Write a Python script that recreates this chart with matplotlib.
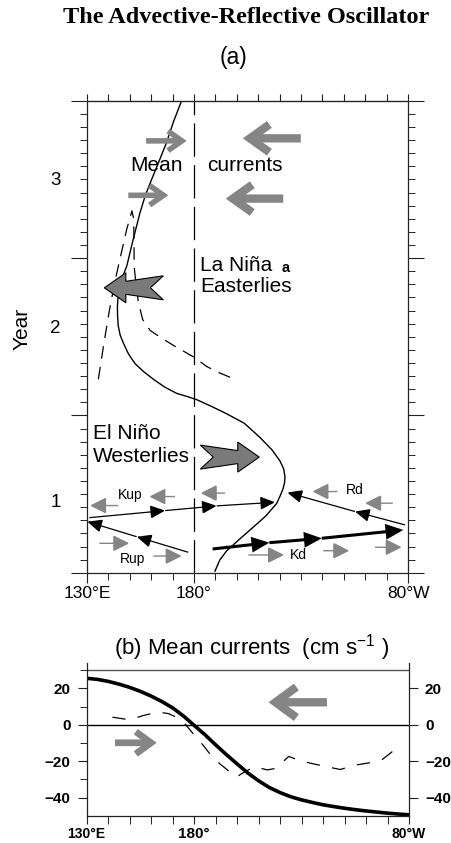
import numpy as np
import matplotlib.pyplot as plt
import matplotlib.transforms as mtransforms
from matplotlib.patches import Polygon

plt.rcParams['font.family'] = ['Liberation Sans', 'DejaVu Sans']
plt.rcParams['lines.scale_dashes'] = False

# ---- panel (a): thermocline / SST anomaly path, longitude vs year
path_lon = [174.2, 170.5, 167.2, 163.5, 160.2, 157.3, 154.8, 151.6, 148.6, 146.6, 145.4, 144.5,
            144.2, 144.3, 144.6, 145.5, 147.0, 149.4, 152.4, 156.3, 161.0, 166.3, 171.9, 176.8,
            181.3, 188.5, 195.3, 203.5, 210.8, 216.5, 220.2, 221.9, 222.5, 222.3, 221.5, 220.3,
            218.6, 213.5, 207.7, 201.0, 195.3, 192.0, 189.8]
path_year = [3.5, 3.37, 3.235, 3.11, 3.0, 2.9, 2.79, 2.62, 2.45, 2.38, 2.32, 2.25,
             2.19, 2.13, 2.07, 2.01, 1.96, 1.89, 1.83, 1.78, 1.73, 1.68, 1.64, 1.62,
             1.60, 1.555, 1.51, 1.45, 1.36, 1.28, 1.21, 1.16, 1.11, 1.07, 1.03, 0.99,
             0.94, 0.86, 0.79, 0.71, 0.64, 0.58, 0.51]

wind_lon = [135.3, 137.8, 140.5, 143.0, 145.5, 148.5, 151.0, 151.8, 152.0, 152.0, 152.8,
            154.0, 156.0, 159.5, 165.0, 171.0, 180.0, 186.0, 192.0, 199.0]
wind_year = [1.73, 1.95, 2.17, 2.35, 2.5, 2.68, 2.80, 2.75, 2.6, 2.45, 2.35,
             2.22, 2.11, 2.04, 1.99, 1.94, 1.87, 1.81, 1.77, 1.73]

# mean-current arrows: (tail lon, tip lon, year)
mean_big = [(229.9, 202.8, 3.261), (221.7, 194.8, 2.878)]
mean_small = [(157.6, 176.6, 3.245), (149.3, 168.0, 2.899)]

# wind chevrons: (tip lon, year, direction)
chevrons = [(138.1, 2.311, -1), (210.5, 1.235, 1)]

# wave rays (lon, year) with arrowheads at each vertex after the first
kup_lon, kup_year = [131.1, 166.5, 190.6, 217.9], [0.850, 0.895, 0.925, 0.948]
rup_lon, rup_year = [177.3, 153.2, 130.1], [0.630, 0.729, 0.825]
rd_lon, rd_year = [278.6, 255.2, 223.6], [0.804, 0.889, 1.010]
kd_lon, kd_year = [188.7, 215.2, 239.7, 277.8], [0.651, 0.691, 0.719, 0.772]

# small gray current arrows: (tail lon, tip lon, year)
small_arrows = [(144.6, 131.4, 0.927), (171.1, 159.1, 0.984), (194.5, 183.1, 1.006),
                (247.0, 235.3, 1.016), (272.9, 259.9, 0.942),
                (135.8, 149.8, 0.687), (161.0, 174.3, 0.606), (205.4, 222.1, 0.613),
                (240.4, 252.6, 0.640), (264.6, 277.1, 0.662)]

wave_labels = [('Kup', 150.0, 0.995), ('Rup', 151.5, 0.587), ('Kd', 228.9, 0.613), ('Rd', 255.0, 1.027)]
year_labels = [('1', 0.948), ('2', 2.05), ('3', 2.99)]

# ---- panel (b): mean currents (cm/s)
model_lon = [130, 135, 140, 145, 150, 155, 160, 165, 170, 175, 180, 185, 190, 195, 200, 205,
             210, 215, 220, 225, 230, 235, 240, 245, 250, 255, 260, 265, 270, 275, 280]
model_u = [25.6, 25.0, 23.9, 22.4, 20.6, 18.4, 15.8, 12.8, 9.3, 4.9, -0.3, -5.4, -11.0, -16.4,
           -21.5, -26.5, -30.8, -34.5, -37.3, -39.6, -41.3, -42.7, -44.0, -45.0, -45.9,
           -46.7, -47.4, -48.0, -48.6, -49.1, -49.5]
obs_lon = [142, 150, 156, 163, 168, 174, 180, 184, 188, 192, 199.7, 202, 208, 214, 218, 224,
           230, 236, 248, 254, 261, 267, 272.5]
obs_u = [4.2, 2.75, 5.0, 7.0, 6.2, 3.0, -5.5, -11.0, -17.0, -21.5, -28.8, -27.0, -23.0, -24.8,
         -24.0, -17.4, -20.0, -21.6, -24.6, -22.4, -21.0, -19.6, -14.5]
mean_b = [(241.8, 214.6, 12.4, 'big'), (143.2, 162.6, -9.9, 'small')]

GRAY = '#858585'
CHEV_GRAY = '#7a7a7a'

fig = plt.figure(figsize=(4.51, 8.43), dpi=100)
fig.text(0.545, 0.979, 'The Advective-Reflective Oscillator', ha='center', va='center',
         fontsize=17.5, fontweight='bold', family=['Liberation Serif', 'DejaVu Serif'])
fig.text(0.517, 0.932, '(a)', ha='center', va='center', fontsize=16.5)

ax = fig.add_axes([0.1929, 0.3206, 0.7118, 0.5599])
ax.set_xlim(130, 280)
ax.set_ylim(0.5, 3.5)
for s in ax.spines.values():
    s.set_linewidth(0.9)
    s.set_color('#222222')

ax.set_xticks([130, 180, 280])
ax.set_xticklabels(['130°E', '180°', '80°W'], fontsize=12.5)
ax.set_xticks(np.arange(130, 281, 10), minor=True)
ax.set_yticks([0.5, 1.5, 2.5, 3.5])
ax.set_yticklabels([])
ax.set_yticks(np.arange(0.5, 3.51, 1 / 12), minor=True)
ax.tick_params(direction='out', width=0.8, color='#222222')
ax.tick_params(axis='x', which='major', length=7.2, pad=2)
ax.tick_params(axis='x', which='minor', length=4.7)
ax.tick_params(axis='y', which='major', length=11.3, right=True)
ax.tick_params(axis='y', which='minor', length=4.7, right=True)
top = ax.secondary_xaxis('top')
top.set_xticks(np.arange(130, 281, 10))
top.set_xticklabels([])
top.tick_params(direction='out', length=5, width=0.8, color='#222222')

yax = mtransforms.blended_transform_factory(ax.transAxes, ax.transData)
for lab, yr in year_labels:
    ax.text(-0.082, yr, lab, transform=yax, ha='right', va='center', fontsize=13.5)
ax.text(-0.201, 2.052, 'Year', transform=yax, ha='center', va='center', fontsize=15,
        rotation=90)

ax.axvline(180, color='k', lw=0.9, dashes=(24, 6))
ax.plot(path_lon, path_year, color='k', lw=1.0)
ax.plot(wind_lon, wind_year, color='k', lw=0.9, dashes=(9, 6))


def v_arrow(a, x0, x1, y, lw, hl, hw):
    a.annotate('', xy=(x1, y), xytext=(x0, y),
               arrowprops=dict(arrowstyle=f'->,head_length={hl},head_width={hw}',
                               lw=lw, color=GRAY, shrinkA=0, shrinkB=0, mutation_scale=1,
                               capstyle='butt', joinstyle='miter'))


def tri_arrow(a, x0, y0, x1, y1, color, lw, hl, hw, z=3):
    a.annotate('', xy=(x1, y1), xytext=(x0, y0),
               arrowprops=dict(arrowstyle=f'-|>,head_length={hl},head_width={hw}',
                               lw=lw, color=color, shrinkA=0, shrinkB=0, mutation_scale=1,
                               capstyle='butt', joinstyle='miter'), zorder=z)


for x0, x1, y in mean_big:
    v_arrow(ax, x0, x1, y, 6, 14, 10)
for x0, x1, y in mean_small:
    v_arrow(ax, x0, x1, y, 4, 10, 7)

ax.text(150.1, 3.086, 'Mean', ha='left', va='center', fontsize=15)
ax.text(185.9, 3.086, 'currents', ha='left', va='center', fontsize=15)
ax.text(182.8, 2.455, 'La Niña', ha='left', va='center', fontsize=15)
ax.text(221.0, 2.44, 'a', ha='left', va='center', fontsize=10.5, fontweight='bold')
ax.text(182.8, 2.32, 'Easterlies', ha='left', va='center', fontsize=15)
ax.text(132.9, 1.388, 'El Niño', ha='left', va='center', fontsize=15)
ax.text(132.9, 1.239, 'Westerlies', ha='left', va='center', fontsize=15)

CHEV = np.array([[0, 0], [-21.5, 15], [-21.5, 6.5], [-59, 12], [-46, 0],
                 [-59, -12], [-21.5, -6.5], [-21.5, -15]]) / 100.0
for lon, yr, d in chevrons:
    verts = CHEV.copy()
    verts[:, 0] *= d
    tr = fig.dpi_scale_trans + mtransforms.ScaledTranslation(lon, yr, ax.transData)
    ax.add_patch(Polygon(verts, closed=True, transform=tr, fc=CHEV_GRAY, ec='k',
                         lw=0.8, zorder=5))

for x0, x1, y in small_arrows:
    tri_arrow(ax, x0, y, x1, y, GRAY, 1.0, 10, 5, z=2)

for xs, ys, lw in [(kup_lon, kup_year, 0.9), (rup_lon, rup_year, 0.9),
                   (rd_lon, rd_year, 0.9), (kd_lon, kd_year, 2.2)]:
    for i in range(1, len(xs)):
        tri_arrow(ax, xs[i - 1], ys[i - 1], xs[i], ys[i], 'k', lw, 9, 4, z=4)

for lab, lon, yr in wave_labels:
    ax.text(lon, yr, lab, ha='center', va='center', fontsize=10)

# ---- panel (b)
fig.text(0.5577, 0.2313, '(b) Mean currents  (cm s$^{\\mathregular{-1}}$ )', ha='center',
         va='center', fontsize=16)
ax2 = fig.add_axes([0.1922, 0.0324, 0.7147, 0.1811])
ax2.set_xlim(130, 280)
ax2.set_ylim(-50, 34)
ax2.spines['top'].set_visible(False)
for s in ['left', 'right', 'bottom']:
    ax2.spines[s].set_linewidth(0.9)
    ax2.spines[s].set_color('#222222')
ax2.axhline(30, color='#555555', lw=1.0)
ax2.axhline(0, color='k', lw=1.0)

ax2.set_yticks([-40, -20, 0, 20])
ax2.set_yticks([-30, -10, 10, 30], minor=True)
ax2.set_xticks([130, 180, 280])
ax2.set_xticks(np.arange(130, 281, 10), minor=True)
ax2.set_xticklabels(['130°E', '180°', '80°W'])
ax2.tick_params(direction='out', width=0.8, color='#222222')
ax2.tick_params(axis='y', which='major', length=6.5, right=True, labelright=True, pad=5)
ax2.tick_params(axis='y', which='minor', length=4.8)
ax2.tick_params(axis='x', which='both', length=5.5, pad=3)
for lab in ax2.get_yticklabels():
    lab.set_fontsize(11)
    lab.set_fontweight('bold')
for i, lab in enumerate(ax2.get_xticklabels()):
    lab.set_fontweight('bold')
    lab.set_fontsize(11 if i == 1 else 10)

ax2.plot(model_lon, model_u, color='k', lw=2.6, solid_capstyle='butt')
ax2.plot(obs_lon, obs_u, color='k', lw=0.9, dashes=(9.5, 9))
for x0, x1, y, kind in mean_b:
    if kind == 'big':
        v_arrow(ax2, x0, x1, y, 6, 15, 11)
    else:
        v_arrow(ax2, x0, x1, y, 4.8, 11, 8)

fig.savefig('out.png', dpi=100)
